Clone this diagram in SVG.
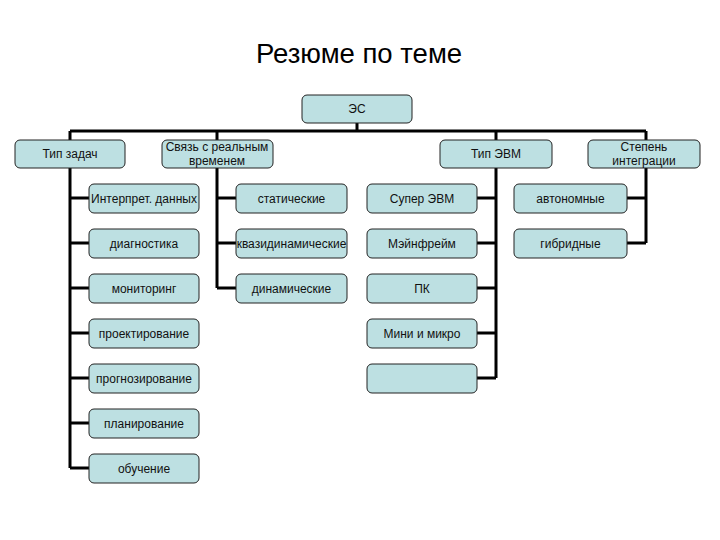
<svg xmlns="http://www.w3.org/2000/svg" width="720" height="540" viewBox="0 0 720 540">
<style>
.n rect{fill:#bde0e2;stroke:#222;stroke-width:1}
.n text{font-family:"Liberation Sans",Arial,sans-serif;font-size:12px;fill:#111;text-anchor:middle;dominant-baseline:central}
.c path{fill:none;stroke:#000;stroke-width:3}
.t{font-family:"Liberation Sans",Arial,sans-serif;font-size:27.5px;fill:#000;text-anchor:middle}
</style>
<rect width="720" height="540" fill="#fff"/>
<text class="t" x="359" y="63">Резюме по теме</text>
<g class="c" id="connectors">
<path d="M357 123V131M70 131H646M70 131V468M217 131V288M496 131V378M646 131V243"/>
<path d="M70 198H89M70 243H89M70 288H89M70 333H89M70 378H89M70 423H89M70 468H89"/>
<path d="M217 198H236M217 243H236M217 288H236"/>
<path d="M477 198H496M477 243H496M477 288H496M477 333H496M477 378H496"/>
<path d="M627 198H646M627 243H646"/>
</g>
<g class="n" id="es"><rect x="302" y="95" width="110" height="28" rx="5"/><text x="357" y="109">ЭС</text></g>
<g class="n" id="tip-zadach"><rect x="15" y="140" width="110" height="28" rx="5"/><text x="70" y="154">Тип задач</text></g>
<g class="n" id="svyaz"><rect x="162" y="140" width="111" height="28" rx="5"/><text x="217" y="147">Связь с реальным</text><text x="217" y="161">временем</text></g>
<g class="n" id="tip-evm"><rect x="440" y="140" width="112" height="28" rx="5"/><text x="496" y="154">Тип ЭВМ</text></g>
<g class="n" id="stepen"><rect x="588" y="140" width="112" height="28" rx="5"/><text x="644" y="147">Степень</text><text x="644" y="161">интеграции</text></g>

<g class="n" id="interpret"><rect x="89" y="184" width="110" height="29" rx="5"/><text x="144" y="198.5">Интерпрет. данных</text></g>
<g class="n" id="diagnostika"><rect x="89" y="229" width="110" height="29" rx="5"/><text x="144" y="243.5">диагностика</text></g>
<g class="n" id="monitoring"><rect x="89" y="274" width="110" height="29" rx="5"/><text x="144" y="288.5">мониторинг</text></g>
<g class="n" id="proektirovanie"><rect x="89" y="319" width="110" height="29" rx="5"/><text x="144" y="333.5">проектирование</text></g>
<g class="n" id="prognozirovanie"><rect x="89" y="364" width="110" height="29" rx="5"/><text x="144" y="378.5">прогнозирование</text></g>
<g class="n" id="planirovanie"><rect x="89" y="409" width="110" height="29" rx="5"/><text x="144" y="423.5">планирование</text></g>
<g class="n" id="obuchenie"><rect x="89" y="454" width="110" height="29" rx="5"/><text x="144" y="468.5">обучение</text></g>

<g class="n" id="staticheskie"><rect x="236" y="184" width="111" height="29" rx="5"/><text x="291.5" y="198.5">статические</text></g>
<g class="n" id="kvazi"><rect x="236" y="229" width="111" height="29" rx="5"/><text x="291.5" y="243.5">квазидинамические</text></g>
<g class="n" id="dinamicheskie"><rect x="236" y="274" width="111" height="29" rx="5"/><text x="291.5" y="288.5">динамические</text></g>

<g class="n" id="super-evm"><rect x="367" y="184" width="110" height="29" rx="5"/><text x="422" y="198.5">Супер ЭВМ</text></g>
<g class="n" id="meinfreim"><rect x="367" y="229" width="110" height="29" rx="5"/><text x="422" y="243.5">Мэйнфрейм</text></g>
<g class="n" id="pk"><rect x="367" y="274" width="110" height="29" rx="5"/><text x="422" y="288.5">ПК</text></g>
<g class="n" id="mini"><rect x="367" y="319" width="110" height="29" rx="5"/><text x="422" y="333.5">Мини и микро</text></g>
<g class="n" id="empty"><rect x="367" y="364" width="110" height="29" rx="5"/></g>

<g class="n" id="avtonomnye"><rect x="514" y="184" width="113" height="29" rx="5"/><text x="570.5" y="198.5">автономные</text></g>
<g class="n" id="gibridnye"><rect x="514" y="229" width="113" height="29" rx="5"/><text x="570.5" y="243.5">гибридные</text></g>
</svg>
